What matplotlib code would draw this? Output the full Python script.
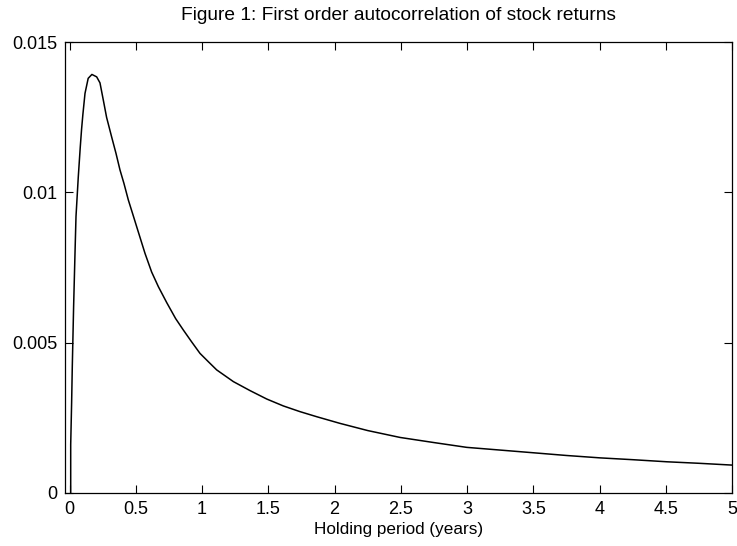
import matplotlib
matplotlib.use("Agg")
import matplotlib.pyplot as plt

# values
holding = [0.008, 0.008, 0.015, 0.02, 0.03, 0.04, 0.048, 0.065, 0.08, 0.09,
           0.1, 0.116, 0.14, 0.168, 0.204, 0.229, 0.254, 0.279, 0.317, 0.35,
           0.38, 0.41, 0.443, 0.475, 0.506, 0.569, 0.619, 0.67, 0.733, 0.8,
           0.858, 0.92, 0.984, 1.05, 1.11, 1.236, 1.362, 1.488, 1.613, 1.739,
           1.866, 2.04, 2.25, 2.495, 2.75, 2.998, 3.25, 3.501, 3.75, 4.005,
           4.25, 4.509, 4.75, 5.0]
autocorr = [0.0, 0.0016, 0.0030, 0.0042, 0.0062, 0.0079, 0.0092, 0.0105, 0.0115, 0.0121,
            0.0126, 0.0133, 0.0138, 0.01393, 0.01385, 0.01365, 0.01308, 0.0125, 0.01185, 0.0113,
            0.01075, 0.0103, 0.00975, 0.0093, 0.00886, 0.00797, 0.00735, 0.00686, 0.00633, 0.0058,
            0.00542, 0.00503, 0.00464, 0.00435, 0.00409, 0.0037, 0.0034, 0.00312, 0.00289, 0.0027,
            0.00253, 0.00231, 0.00207, 0.00184, 0.00167, 0.00151, 0.00142, 0.00133, 0.00124, 0.00116,
            0.0011, 0.00103, 0.00098, 0.00092]

xticks = [0, 0.5, 1, 1.5, 2, 2.5, 3, 3.5, 4, 4.5, 5]
xtick_labels = ["0", "0.5", "1", "1.5", "2", "2.5", "3", "3.5", "4", "4.5", "5"]
yticks = [0, 0.005, 0.01, 0.015]
ytick_labels = ["0", "0.005", "0.01", "0.015"]

plt.rcParams["font.family"] = ["Liberation Sans", "DejaVu Sans"]

fig = plt.figure(figsize=(7.37, 5.46), dpi=100)
ax = fig.add_axes([0.0882, 0.0976, 0.905, 0.8249])

ax.plot(holding, autocorr, color="black", linewidth=1.1)

ax.set_xlim(-0.035, 5)
ax.set_ylim(0, 0.015)
ax.set_xticks(xticks)
ax.set_xticklabels(xtick_labels)
ax.set_yticks(yticks)
ax.set_yticklabels(ytick_labels)
ax.tick_params(direction="in", length=5.5, width=0.8, top=True, right=True,
               labelsize=13)
ax.tick_params(axis="x", pad=6)
ax.tick_params(axis="y", pad=5.5)
for sp in ax.spines.values():
    sp.set_linewidth(0.9)

ax.set_xlabel("Holding period (years)", fontsize=12.3, labelpad=3)
ax.set_title("Figure 1: First order autocorrelation of stock returns",
             fontsize=13.8, pad=16)

fig.savefig("out.png", dpi=100)
